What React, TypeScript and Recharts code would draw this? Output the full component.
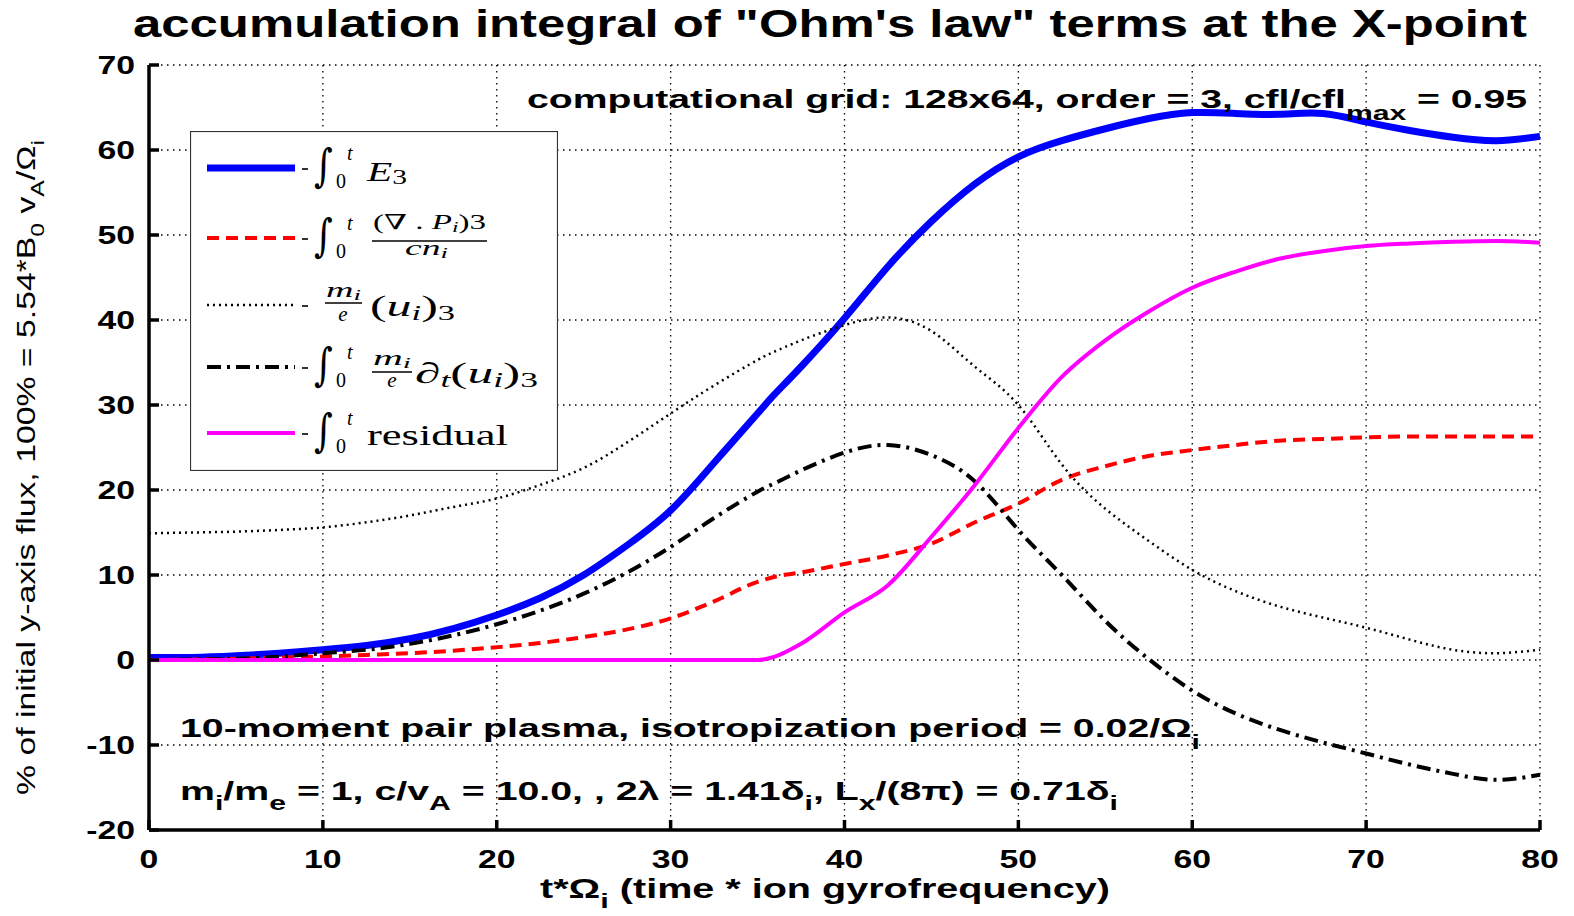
import React from 'react';
import { LineChart, Line, XAxis, YAxis, CartesianGrid, Legend } from 'recharts';

// time axis (t * Omega_i)
const tValues = [0, 2.5, 5, 7.5, 10, 12.5, 15, 17.5, 20, 22.5, 25, 27.5, 30, 32.5, 35, 36, 37.5, 40, 42.5, 45, 47.5, 50, 52.5, 55, 57.5, 60, 62.5, 65, 67.5, 70, 72.5, 75, 77.5, 80];

// -int E3
const e3 = [0.3, 0.3, 0.5, 0.8, 1.2, 1.7, 2.5, 3.7, 5.3, 7.3, 10.0, 13.5, 17.6, 23.2, 29.0, 31.3, 34.5, 40.2, 46.3, 51.6, 56.0, 59.2, 61.1, 62.5, 63.7, 64.4, 64.3, 64.2, 64.3, 63.3, 62.3, 61.5, 61.1, 61.6];
// -int (div P_i)_3 / (e n_i)
const pressure = [0, 0.05, 0.15, 0.3, 0.4, 0.6, 0.8, 1.1, 1.5, 2.0, 2.7, 3.6, 4.9, 6.9, 9.2, 9.8, 10.3, 11.3, 12.3, 13.7, 16.2, 18.4, 21.2, 22.8, 24.0, 24.7, 25.3, 25.8, 26.0, 26.2, 26.3, 26.3, 26.3, 26.3];
// -(m_i/e) (u_i)_3
const inertia = [14.9, 15.0, 15.1, 15.3, 15.6, 16.2, 17.0, 18.0, 19.0, 20.6, 22.6, 25.6, 29.0, 32.3, 35.3, 36.3, 37.6, 39.4, 40.3, 38.7, 34.5, 30.0, 23.0, 17.8, 14.0, 10.6, 8.1, 6.3, 5.0, 3.8, 2.4, 1.2, 0.8, 1.2];
// -int (m_i/e) d_t (u_i)_3
const dtInertia = [0, 0.05, 0.15, 0.4, 0.8, 1.2, 1.9, 2.9, 4.2, 5.8, 7.8, 10.3, 13.3, 16.7, 19.8, 20.8, 22.3, 24.4, 25.3, 24.1, 21.0, 15.3, 10.0, 4.6, 0.1, -3.6, -6.3, -8.2, -9.7, -11.0, -12.3, -13.4, -14.1, -13.5];
// -int residual
const residual = [0, 0, 0, 0, 0, 0, 0, 0, 0, 0, 0, 0, 0, 0, 0, 0.4, 1.9, 5.6, 8.8, 14.5, 20.6, 27.3, 33.3, 37.6, 41.0, 43.8, 45.7, 47.2, 48.1, 48.7, 49.0, 49.2, 49.3, 49.1];

const xTicks = [0, 10, 20, 30, 40, 50, 60, 70, 80];
const yTicks = [-20, -10, 0, 10, 20, 30, 40, 50, 60, 70];

const SANS = "'Liberation Sans', Arial, Helvetica, sans-serif";
const SERIF = "'Liberation Serif', 'DejaVu Serif', serif";

const series = [
  { key: 'e3', color: '#0000ff', width: 7, dash: undefined as string | undefined, curve: 'natural' },
  { key: 'pressure', color: '#ff0000', width: 4, dash: '12 7', curve: 'monotone' },
  { key: 'inertia', color: '#000000', width: 2.5, dash: '2 4', curve: 'natural' },
  { key: 'dtInertia', color: '#000000', width: 4, dash: '14 6 3 6', curve: 'natural' },
  { key: 'residual', color: '#ff00ff', width: 4, dash: undefined, curve: 'monotone' },
];

const chartData = tValues.map((t, i) => ({
  t,
  e3: e3[i],
  pressure: pressure[i],
  inertia: inertia[i],
  dtInertia: dtInertia[i],
  residual: residual[i],
}));

const XTick = (props: any) => {
  const { x, y, payload } = props;
  return (
    <g transform={`translate(${x},${y}) scale(1.35,1)`}>
      <text x={0} y={0} textAnchor="middle" fontFamily={SANS} fontWeight="bold" fontSize={25} fill="#000">
        {payload.value}
      </text>
    </g>
  );
};

const YTick = (props: any) => {
  const { x, y, payload } = props;
  return (
    <g transform={`translate(${x},${y + 9}) scale(1.35,1)`}>
      <text x={0} y={0} textAnchor="end" fontFamily={SANS} fontWeight="bold" fontSize={25} fill="#000">
        {payload.value}
      </text>
    </g>
  );
};

const Minus = ({ y0 }: { y0: number }) => (
  <line x1={112} x2={118} y1={y0 + 1} y2={y0 + 1} stroke="#000" strokeWidth={1.6} />
);

// -int_0^t, row centre y0
const Integral = ({ y0 }: { y0: number }) => (
  <g>
    <Minus y0={y0} />
    <text transform={`translate(124,${y0 + 13}) scale(1,1.25)`} fontFamily="'DejaVu Serif', serif" fontSize={36}>∫</text>
    <text x={157} y={y0 - 8} fontFamily={SERIF} fontStyle="italic" fontSize={20}>t</text>
    <text x={146} y={y0 + 20} fontFamily={SERIF} fontSize={20}>0</text>
  </g>
);

const rowY = [37, 107, 174, 236, 302];

const LegendBox = () => (
  <svg width={368} height={340} style={{ display: 'block' }}>
    <rect x={0.5} y={0.5} width={367} height={339} fill="#fff" stroke="#333" strokeWidth={1.2} />
    {series.map((s, i) => (
      <line key={s.key} x1={17} x2={105} y1={rowY[i]} y2={rowY[i]} stroke={s.color} strokeWidth={s.width} strokeDasharray={s.dash} />
    ))}
    {/* row 1 */}
    <Integral y0={rowY[0]} />
    <text x={177} y={rowY[0] + 13} fontFamily={SERIF} fontSize={28} textLength={40} lengthAdjust="spacingAndGlyphs">
      <tspan fontStyle="italic">E</tspan>
      <tspan fontSize={20} dy={3}>3</tspan>
    </text>
    {/* row 2 */}
    <Integral y0={rowY[1]} />
    <text x={183} y={rowY[1] - 9} fontFamily={SERIF} fontSize={21} textLength={113} lengthAdjust="spacingAndGlyphs">
      (∇ . <tspan fontStyle="italic">P</tspan>
      <tspan fontSize={15} fontStyle="italic" dy={3}>i</tspan>
      <tspan dy={-3}>)3</tspan>
    </text>
    <line x1={182} x2={297} y1={rowY[1] + 3} y2={rowY[1] + 3} stroke="#000" strokeWidth={1.4} />
    <text x={215} y={rowY[1] + 17} fontFamily={SERIF} fontSize={21} fontStyle="italic" textLength={43} lengthAdjust="spacingAndGlyphs">
      cn<tspan fontSize={15} dy={3}>i</tspan>
    </text>
    {/* row 3 */}
    <Minus y0={rowY[2]} />
    <text x={136} y={rowY[2] - 8} fontFamily={SERIF} fontSize={21} fontStyle="italic" textLength={35} lengthAdjust="spacingAndGlyphs">
      m<tspan fontSize={15} dy={3}>i</tspan>
    </text>
    <line x1={135} x2={172} y1={rowY[2] - 2} y2={rowY[2] - 2} stroke="#000" strokeWidth={1.4} />
    <text x={153} y={rowY[2] + 16} textAnchor="middle" fontFamily={SERIF} fontSize={21} fontStyle="italic">e</text>
    <text x={180} y={rowY[2] + 11} fontFamily={SERIF} fontSize={29} textLength={85} lengthAdjust="spacingAndGlyphs">
      (<tspan fontStyle="italic">u</tspan>
      <tspan fontSize={20} fontStyle="italic" dy={4}>i</tspan>
      <tspan dy={-4}>)</tspan>
      <tspan fontSize={20} dy={4}>3</tspan>
    </text>
    {/* row 4 */}
    <Integral y0={rowY[3]} />
    <text x={183} y={rowY[3] - 2} fontFamily={SERIF} fontSize={21} fontStyle="italic" textLength={38} lengthAdjust="spacingAndGlyphs">
      m<tspan fontSize={15} dy={3}>i</tspan>
    </text>
    <line x1={182} x2={222} y1={rowY[3] + 5} y2={rowY[3] + 5} stroke="#000" strokeWidth={1.4} />
    <text x={202} y={rowY[3] + 20} textAnchor="middle" fontFamily={SERIF} fontSize={21} fontStyle="italic">e</text>
    <text x={225} y={rowY[3] + 16} fontFamily={SERIF} fontSize={29} textLength={123} lengthAdjust="spacingAndGlyphs">
      <tspan fontStyle="italic">∂</tspan>
      <tspan fontSize={20} fontStyle="italic" dy={4}>t</tspan>
      <tspan dy={-4}>(</tspan>
      <tspan fontStyle="italic">u</tspan>
      <tspan fontSize={20} fontStyle="italic" dy={4}>i</tspan>
      <tspan dy={-4}>)</tspan>
      <tspan fontSize={20} dy={4}>3</tspan>
    </text>
    {/* row 5 */}
    <Integral y0={rowY[4]} />
    <text x={177} y={rowY[4] + 12} fontFamily={SERIF} fontSize={29} textLength={141} lengthAdjust="spacingAndGlyphs">residual</text>
  </svg>
);

const Overlay = () => (
  <svg width={1574} height={916} style={{ position: 'absolute', left: 0, top: 0, pointerEvents: 'none' }}>
    <text x={133} y={37} fontFamily={SANS} fontWeight="bold" fontSize={38} textLength={1394} lengthAdjust="spacingAndGlyphs">
      accumulation integral of "Ohm's law" terms at the X-point
    </text>
    <text x={527} y={108} fontFamily={SANS} fontWeight="bold" fontSize={26} textLength={1000} lengthAdjust="spacingAndGlyphs">
      computational grid: 128x64, order = 3, cfl/cfl<tspan fontSize={20} dy={12}>max</tspan>
      <tspan dy={-12}> = 0.95</tspan>
    </text>
    <text x={180} y={737} fontFamily={SANS} fontWeight="bold" fontSize={26} textLength={1020} lengthAdjust="spacingAndGlyphs">
      10-moment pair plasma, isotropization period = 0.02/Ω<tspan fontSize={20} dy={12}>i</tspan>
    </text>
    <text x={180} y={800} fontFamily={SANS} fontWeight="bold" fontSize={26} textLength={938} lengthAdjust="spacingAndGlyphs">
      m<tspan fontSize={20} dy={10}>i</tspan>
      <tspan dy={-10}>/m</tspan>
      <tspan fontSize={20} dy={10}>e</tspan>
      <tspan dy={-10}> = 1, c/v</tspan>
      <tspan fontSize={20} dy={10}>A</tspan>
      <tspan dy={-10}> = 10.0, , 2λ = 1.41δ</tspan>
      <tspan fontSize={20} dy={10}>i</tspan>
      <tspan dy={-10}>, L</tspan>
      <tspan fontSize={20} dy={10}>x</tspan>
      <tspan dy={-10}>/(8π) = 0.71δ</tspan>
      <tspan fontSize={20} dy={10}>i</tspan>
    </text>
    <text x={540} y={898} fontFamily={SANS} fontWeight="bold" fontSize={27} textLength={570} lengthAdjust="spacingAndGlyphs">
      t*Ω<tspan fontSize={21} dy={10}>i</tspan>
      <tspan dy={-10}> (time * ion gyrofrequency)</tspan>
    </text>
    <text transform="translate(35,795) rotate(-90)" x={0} y={0} fontFamily={SANS} fontSize={26} textLength={655} lengthAdjust="spacingAndGlyphs">
      % of initial y-axis flux, 100% = 5.54*B<tspan fontSize={19} dy={9}>0</tspan>
      <tspan dy={-9}> v</tspan>
      <tspan fontSize={19} dy={9}>A</tspan>
      <tspan dy={-9}>/Ω</tspan>
      <tspan fontSize={19} dy={9}>i</tspan>
    </text>
  </svg>
);

export default function App() {
  const axisStyle = { stroke: '#000', strokeWidth: 3.5 };
  return (
    <div style={{ position: 'absolute', left: 0, top: 0, width: 1574, height: 916, background: '#fff' }}>
      <LineChart width={1574} height={916} data={chartData} margin={{ top: 65, right: 34, bottom: 0, left: 0 }}>
        <CartesianGrid stroke="#000" strokeWidth={1.3} strokeDasharray="1.5 4.5" />
        <XAxis
          dataKey="t"
          type="number"
          domain={[0, 80]}
          ticks={xTicks}
          height={86}
          tickSize={-10}
          tickMargin={48}
          axisLine={axisStyle}
          tickLine={axisStyle}
          tick={<XTick />}
        />
        <XAxis
          xAxisId="top"
          orientation="top"
          dataKey="t"
          type="number"
          domain={[0, 80]}
          ticks={xTicks}
          height={0}
          tickSize={-10}
          axisLine={axisStyle}
          tickLine={axisStyle}
          tick={false}
        />
        <YAxis
          type="number"
          domain={[-20, 70]}
          ticks={yTicks}
          width={149}
          tickSize={-10}
          tickMargin={24}
          axisLine={axisStyle}
          tickLine={axisStyle}
          tick={<YTick />}
        />
        <YAxis
          yAxisId="right"
          orientation="right"
          type="number"
          domain={[-20, 70]}
          ticks={yTicks}
          width={0}
          tickSize={-10}
          axisLine={axisStyle}
          tickLine={axisStyle}
          tick={false}
        />
        <Legend
          layout="horizontal"
          verticalAlign="middle"
          align="center"
          wrapperStyle={{ position: 'absolute', left: 190, top: 131, width: 368, height: 340 }}
          content={() => <LegendBox />}
        />
        {series.map((s) => (
          <Line
            key={s.key}
            dataKey={s.key}
            type={s.curve as any}
            stroke={s.color}
            strokeWidth={s.width}
            strokeDasharray={s.dash}
            dot={false}
            activeDot={false}
            isAnimationActive={false}
          />
        ))}
      </LineChart>
      <Overlay />
    </div>
  );
}
